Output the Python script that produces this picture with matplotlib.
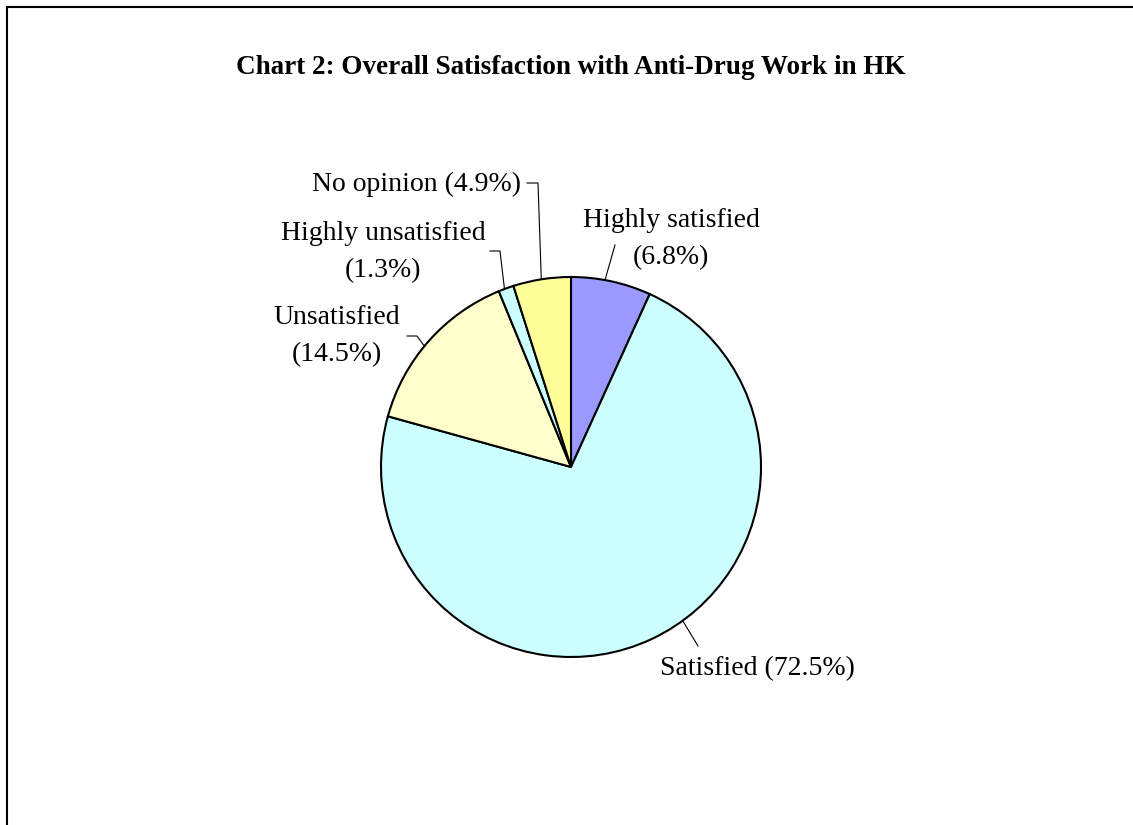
import matplotlib
matplotlib.use("Agg")
import matplotlib.pyplot as plt
import numpy as np

categories = ["Highly satisfied", "Satisfied", "Unsatisfied", "Highly unsatisfied", "No opinion"]
values = [6.8, 72.5, 14.5, 1.3, 4.9]
colors = ["#9999FF", "#CCFFFF", "#FFFFCC", "#CCFFFF", "#FFFF99"]
title = "Chart 2: Overall Satisfaction with Anti-Drug Work in HK"

plt.rcParams['font.family'] = ['Liberation Serif', 'DejaVu Serif']

W, H = 1133, 825
fig = plt.figure(figsize=(W / 100, H / 100), dpi=100)
ax = fig.add_axes([0, 0, 1, 1])

cx, cy, R = 571, 467, 190
ax.pie(values, colors=colors, startangle=-90, counterclock=True,
       center=(cx, cy), radius=R,
       wedgeprops=dict(edgecolor='black', linewidth=1.5))
ax.set_xlim(0, W)
ax.set_ylim(H, 0)
ax.set_aspect('equal')
ax.axis('off')

# frame lines (top and left)
ax.plot([6.5, W], [6.5, 6.5], color='black', lw=1.5, solid_capstyle='projecting')
ax.plot([6.5, 6.5], [6.5, H], color='black', lw=1.5, solid_capstyle='projecting')

ax.text(cx, 68, title, ha='center', va='center', fontsize=19.5, fontweight='bold')

def circ(angle_deg):
    a = np.deg2rad(angle_deg)
    return (cx + R * np.sin(a), cy - R * np.cos(a))

fs = 20
labels = [
    # two-line?, text x, text y, start angle (deg clockwise from top), path points
    (True, 671, 239, 10.3, [(615, 245)]),
    (False, 757, 669, 144, [(698, 646)]),
    (True, 337, 336, -50.5, [(417, 336), (407, 336)]),
    (True, 383, 252, -20.5, [(500, 251), (490, 251)]),
    (False, 417, 184, -9.0, [(538, 183), (527, 183)]),
]
for i, (two, tx, ty, ang, pts) in enumerate(labels):
    name = categories[i]
    label = f"{name}\n({values[i]}%)" if two else f"{name} ({values[i]}%)"
    ax.text(tx, ty, label, ha='center', va='center', fontsize=fs, linespacing=1.62)
    sx, sy = circ(ang)
    xs = [sx] + [p[0] for p in pts]
    ys = [sy] + [p[1] for p in pts]
    ax.plot(xs, ys, color='black', lw=0.8)

fig.savefig("out.png", dpi=100)
